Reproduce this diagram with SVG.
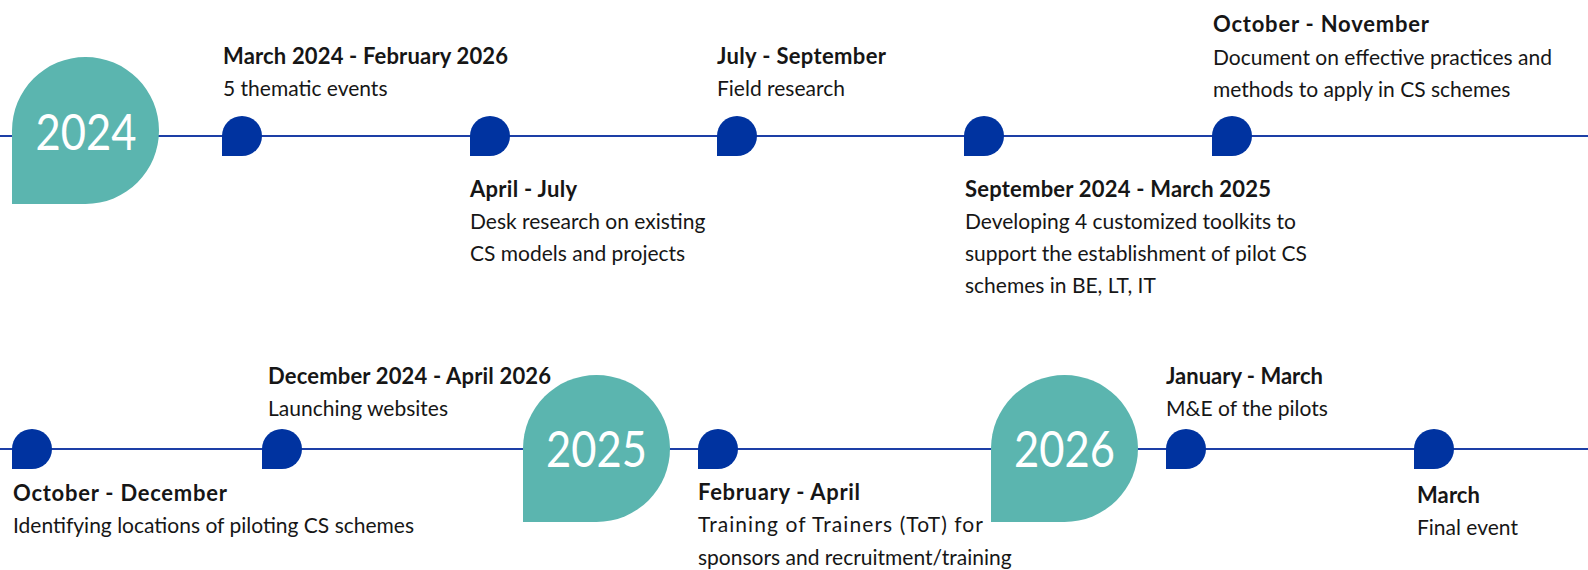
<svg xmlns="http://www.w3.org/2000/svg" width="1588" height="570" viewBox="0 0 1588 570">
<style>
.t{font-family:Lato,"Open Sans","Liberation Sans",sans-serif;font-size:21px;fill:#161616}
.b{font-weight:700;font-size:22px}
.yr{font-family:Lato,"Open Sans","Liberation Sans",sans-serif;font-size:50px;fill:#ffffff;text-anchor:middle;font-weight:400}
.big{fill:#5BB5AF}
.dot{fill:#0033A0}
.ln{stroke:#1D3FA6;stroke-width:2;fill:none}
</style>
<rect width="1588" height="570" fill="#ffffff"/>
<g id="connectors">
<line class="ln" x1="0" y1="136" x2="1588" y2="136"/>
<line class="ln" x1="0" y1="449" x2="1588" y2="449"/>
</g>
<g id="y2024">
<path class="big" d="M12,204 L12,130.5 A73.5,73.5 0 1 1 85.5,204 Z"/>
<text class="yr" x="86" y="150" textLength="101" lengthAdjust="spacingAndGlyphs">2024</text>
</g>
<g id="e1">
<path class="dot" d="M222,156 L222,136 A20,20 0 1 1 242,156 Z"/>
<text class="t b" x="223" y="64" textLength="285" lengthAdjust="spacing">March 2024 - February 2026</text>
<text class="t" x="223" y="96">5 thematic events</text>
</g>
<g id="e2">
<path class="dot" d="M470,156 L470,136 A20,20 0 1 1 490,156 Z"/>
<text class="t b" x="470" y="197" textLength="107" lengthAdjust="spacing">April - July</text>
<text class="t" x="470" y="229">Desk research on existing</text>
<text class="t" x="470" y="261">CS models and projects</text>
</g>
<g id="e3">
<path class="dot" d="M717,156 L717,136 A20,20 0 1 1 737,156 Z"/>
<text class="t b" x="717" y="64" textLength="169" lengthAdjust="spacing">July - September</text>
<text class="t" x="717" y="96">Field research</text>
</g>
<g id="e4">
<path class="dot" d="M964,156 L964,136 A20,20 0 1 1 984,156 Z"/>
<text class="t b" x="965" y="197" textLength="306" lengthAdjust="spacing">September 2024 - March 2025</text>
<text class="t" x="965" y="229">Developing 4 customized toolkits to</text>
<text class="t" x="965" y="261">support the establishment of pilot CS</text>
<text class="t" x="965" y="293">schemes in BE, LT, IT</text>
</g>
<g id="e5">
<path class="dot" d="M1212,156 L1212,136 A20,20 0 1 1 1232,156 Z"/>
<text class="t b" x="1213" y="32" textLength="216" lengthAdjust="spacing">October - November</text>
<text class="t" x="1213" y="65">Document on effective practices and</text>
<text class="t" x="1213" y="97">methods to apply in CS schemes</text>
</g>
<g id="e6">
<path class="dot" d="M12,469 L12,449 A20,20 0 1 1 32,469 Z"/>
<text class="t b" x="13" y="501" textLength="214" lengthAdjust="spacing">October - December</text>
<text class="t" x="13" y="533">Identifying locations of piloting CS schemes</text>
</g>
<g id="e7">
<path class="dot" d="M262,469 L262,449 A20,20 0 1 1 282,469 Z"/>
<text class="t b" x="268" y="384" textLength="283" lengthAdjust="spacing">December 2024 - April 2026</text>
<text class="t" x="268" y="416">Launching websites</text>
</g>
<g id="y2025">
<path class="big" d="M523,522 L523,448.5 A73.5,73.5 0 1 1 596.5,522 Z"/>
<text class="yr" x="596.5" y="467" textLength="101" lengthAdjust="spacingAndGlyphs">2025</text>
</g>
<g id="e8">
<path class="dot" d="M698,469 L698,449 A20,20 0 1 1 718,469 Z"/>
<text class="t b" x="698" y="500" textLength="162" lengthAdjust="spacing">February - April</text>
<text class="t" x="698" y="532" textLength="285" lengthAdjust="spacing">Training of Trainers (ToT) for</text>
<text class="t" x="698" y="565">sponsors and recruitment/training</text>
</g>
<g id="y2026">
<path class="big" d="M991,522 L991,448.5 A73.5,73.5 0 1 1 1064.5,522 Z"/>
<text class="yr" x="1064.5" y="467" textLength="101" lengthAdjust="spacingAndGlyphs">2026</text>
</g>
<g id="e9">
<path class="dot" d="M1166,469 L1166,449 A20,20 0 1 1 1186,469 Z"/>
<text class="t b" x="1166" y="384" textLength="157" lengthAdjust="spacing">January - March</text>
<text class="t" x="1166" y="416">M&amp;E of the pilots</text>
</g>
<g id="e10">
<path class="dot" d="M1414,469 L1414,449 A20,20 0 1 1 1434,469 Z"/>
<text class="t b" x="1417" y="503" textLength="63" lengthAdjust="spacing">March</text>
<text class="t" x="1417" y="535">Final event</text>
</g>
</svg>
